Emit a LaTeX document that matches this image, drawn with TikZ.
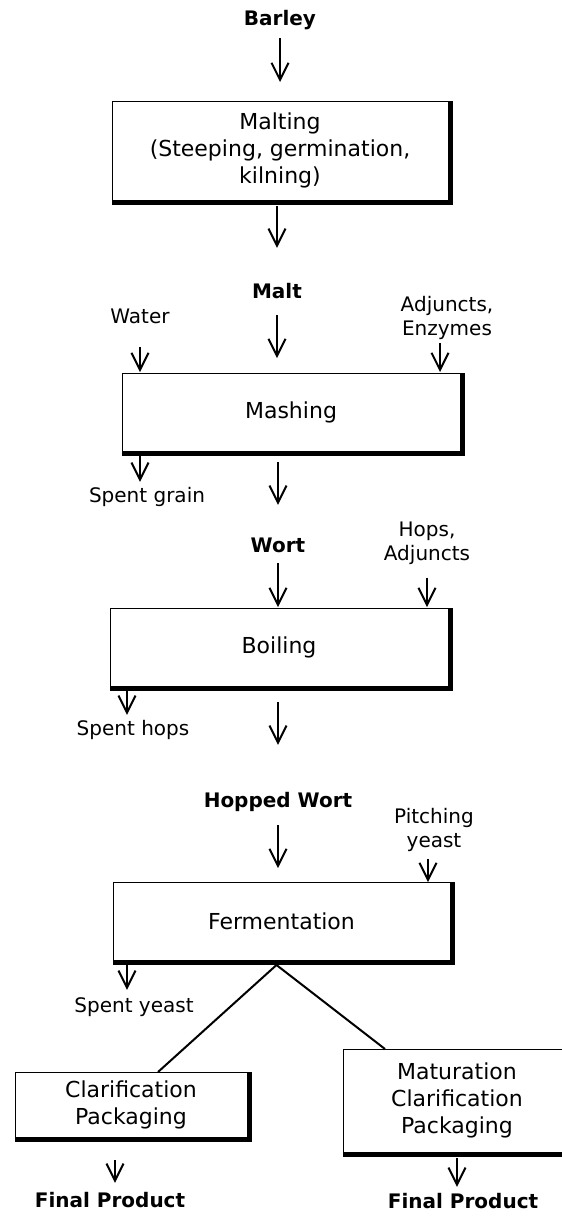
\documentclass[tikz,border=0pt]{standalone}
\usepackage{fontspec}
\usepackage{tikz}
\setmainfont{DejaVu Sans}
\usetikzlibrary{arrows.meta}

\begin{document}
\begin{tikzpicture}[x=1pt,y=-1pt,
  stage/.style={draw,line width=1pt,outer sep=0pt,inner sep=0pt,align=center,font=\fontsize{22}{27}\selectfont},
  title/.style={inner sep=0pt,font=\bfseries\fontsize{20}{24}\selectfont,text height=15pt,text depth=5pt},
  side/.style={inner sep=0pt,font=\fontsize{20}{24}\selectfont,text height=14.5pt,text depth=4.5pt},
  sidetwo/.style={inner sep=0pt,align=center,font=\fontsize{20}{24}\selectfont},
  flow/.style={line width=2pt,-{Straight Barb[length=17pt,width=17pt]}},
  branch/.style={line width=2pt}]
\useasboundingbox (0,0) rectangle (562,1216);
\clip (0,0) rectangle (562,1216);
\node[title] (barley) at (280,20) {Barley};
\node[stage,minimum width=336pt,minimum height=99pt] (malting) at (280,150.5) {Malting\\(Steeping, germination,\\kilning)};
\node[title] (malt) at (277,293) {Malt};
\node[side] (water) at (140,318) {Water};
\node[sidetwo] (adjunct) at (447,318) {Adjuncts,\\Enzymes};
\node[stage,minimum width=338pt,minimum height=78pt] (mashing) at (291,412) {Mashing};
\node[side] (grain) at (147,497) {Spent grain};
\node[title] (wort) at (278,547) {Wort};
\node[sidetwo] (hops) at (427,543) {Hops,\\Adjuncts};
\node[stage,minimum width=338pt,minimum height=78pt] (boiling) at (279,647) {Boiling};
\node[side] (spenthops) at (133,730) {Spent hops};
\node[title] (hopped) at (278,802) {Hopped Wort};
\node[sidetwo] (pitching) at (434,830) {Pitching\\yeast};
\node[stage,minimum width=337pt,minimum height=78pt] (ferment) at (281.5,921) {Fermentation};
\node[side] (spentyeast) at (134,1007) {Spent yeast};
\node[stage,minimum width=232pt,minimum height=65pt] (clarify) at (131,1104.5) {Clarification\\Packaging};
\node[stage,minimum width=228pt,minimum height=103pt] (mature) at (457,1100.5) {Maturation\\Clarification\\Packaging};
\node[title] (final1) at (110,1202) {Final Product};
\node[title] (final2) at (463,1203) {Final Product};
\foreach \b in {malting,mashing,boiling,ferment,clarify,mature}
  \draw[line width=4pt] ([xshift=2.5pt]\b.north east) -- ([shift={(2.5pt,-2.5pt)}]\b.south east) -- ([yshift=-2.5pt]\b.south west);
\draw[flow,shorten <=8pt,shorten >=19pt] (barley.south) -- (barley.south |- malting.north);
\draw[flow,shorten <=6pt,shorten >=35pt] (malting.south -| malt) -- (malt.north);
\draw[flow,shorten <=12pt,shorten >=15pt] (malt.south) -- (malt.south |- mashing.north);
\draw[flow,shorten <=19.5pt,shorten >=1pt] (water.south) -- (water.south |- mashing.north);
\draw[flow,shorten <=3pt,shorten >=1pt] ([xshift=-7pt]adjunct.south) -- ([xshift=-7pt]adjunct.south |- mashing.north);
\draw[flow,shorten <=1pt,shorten >=5.5pt] ([xshift=18pt]mashing.south west) -- ([xshift=18pt]mashing.south west |- grain.north);
\draw[flow,shorten <=11pt,shorten >=32pt] (mashing.south -| wort) -- (wort.north);
\draw[flow,shorten <=6pt,shorten >=1pt] (wort.south) -- (wort.south |- boiling.north);
\draw[flow,shorten <=13pt,shorten >=1pt] (hops.south) -- (hops.south |- boiling.north);
\draw[flow,shorten <=1pt,shorten >=5.5pt] ([xshift=17pt]boiling.south west) -- ([xshift=17pt]boiling.south west |- spenthops.north);
\draw[flow,shorten <=16pt,shorten >=47pt] (boiling.south -| hopped) -- (hopped.north);
\draw[flow,shorten <=13pt,shorten >=14pt] (hopped.south) -- (hopped.south |- ferment.north);
\draw[flow,shorten <=7pt,shorten >=0pt] ([xshift=-6pt]pitching.south) -- ([xshift=-6pt]pitching.south |- ferment.north);
\draw[flow,shorten <=1pt,shorten >=7.5pt] ([xshift=14pt]ferment.south west) -- ([xshift=14pt]ferment.south west |- spentyeast.north);
\coordinate (split) at ([shift={(-5pt,-5pt)}]ferment.south);
\draw[branch] ([xshift=27pt]clarify.north) -- (split) -- ([xshift=-72pt]mature.north);
\draw[flow,shorten <=23pt,shorten >=9pt] ([xshift=5pt]clarify.south -| final1) -- ([xshift=5pt]final1.north);
\draw[flow,shorten <=6pt,shorten >=6pt] (mature.south) -- (mature.south |- final2.north);
\end{tikzpicture}
\end{document}
